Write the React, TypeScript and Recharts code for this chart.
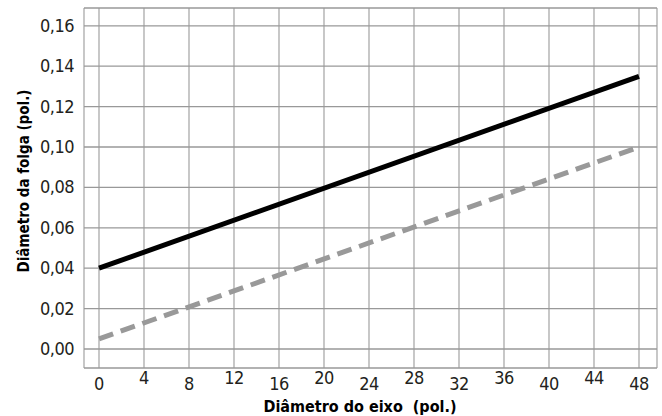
import { LineChart, Line, XAxis, YAxis, CartesianGrid, Label } from 'recharts'

const xValues = [0, 48]
const folgaMax = [0.04, 0.135]
const folgaMin = [0.005, 0.1]
const xTicks = [0, 4, 8, 12, 16, 20, 24, 28, 32, 36, 40, 44, 48]
const yTicks = [0, 0.02, 0.04, 0.06, 0.08, 0.1, 0.12, 0.14, 0.16]

const FONT = '"DejaVu Sans Condensed", "DejaVu Sans", sans-serif'
const cond = { fontStretch: 'condensed' as const, letterSpacing: -0.5 }

const data = xValues.map((x, i) => ({ x, max: folgaMax[i], min: folgaMin[i] }))

function XTick({ x, y, payload, index }: any) {
  const up = index % 2 === 1
  return (
    <text
      x={x}
      y={y + (up ? 8 : 14)}
      textAnchor="middle"
      fontFamily={FONT}
      fontSize={18}
      fill="#231f20"
      style={cond}
    >
      {payload.value}
    </text>
  )
}

function YTick({ x, y, payload }: any) {
  return (
    <text
      x={x}
      y={y}
      dy={6}
      textAnchor="end"
      fontFamily={FONT}
      fontSize={18}
      fill="#231f20"
      style={cond}
    >
      {payload.value.toFixed(2).replace('.', ',')}
    </text>
  )
}

export default function App() {
  return (
    <div style={{ position: 'absolute', left: 0, top: 0, width: 662, height: 416, background: '#fff' }}>
      <LineChart width={662} height={416} data={data} margin={{ top: 8, right: 5, bottom: 0, left: 0 }}>
        <CartesianGrid horizontal={false} stroke="#aaaaaa" strokeWidth={1.3} />
        <CartesianGrid vertical={false} stroke="#999999" strokeWidth={1.3} />
        <XAxis
          dataKey="x"
          type="number"
          domain={[-1.333, 49.6]}
          ticks={xTicks}
          axisLine={false}
          tickLine={false}
          height={48}
          tick={<XTick />}
          interval={0}
        >
          <Label
            content={({ viewBox }: any) => (
              <text
                x={viewBox.x + 276}
                y={viewBox.y + 44}
                textAnchor="middle"
                fontFamily={FONT}
                fontWeight="bold"
                fontSize={16}
                fill="#000"
                style={{ fontStretch: 'condensed' }}
              >
                {'Diâmetro do eixo\u00a0 (pol.)'}
              </text>
            )}
          />
        </XAxis>
        <YAxis
          type="number"
          domain={[-0.0094, 0.1688]}
          ticks={yTicks}
          axisLine={false}
          tickLine={false}
          width={84}
          tickMargin={4}
          tick={<YTick />}
          interval={0}
        >
          <Label
            content={() => (
              <text
                x={0}
                y={0}
                transform="translate(29, 181) rotate(-90)"
                textAnchor="middle"
                fontFamily={FONT}
                fontWeight="bold"
                fontSize={15}
                fill="#000"
                style={{ fontStretch: 'condensed' }}
              >
                Diâmetro da folga (pol.)
              </text>
            )}
          />
        </YAxis>
        <Line
          dataKey="min"
          stroke="#999999"
          strokeWidth={5}
          strokeDasharray="15 8"
          dot={false}
          isAnimationActive={false}
        />
        <Line dataKey="max" stroke="#000" strokeWidth={5} dot={false} isAnimationActive={false} />
      </LineChart>
    </div>
  )
}
